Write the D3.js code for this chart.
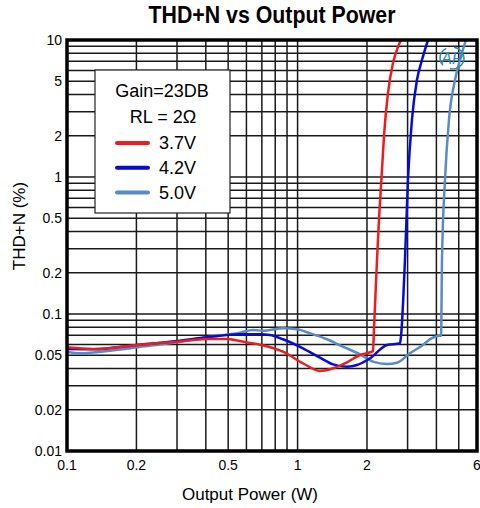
<!DOCTYPE html>
<html lang="en">
<head>
    <meta charset="UTF-8">
    <script src="https://cdn.jsdelivr.net/npm/d3@7"></script>
    <title>THD+N vs Output Power</title>
    <style>
        body {
            margin: 0;
            background: white;
        }

        text {
            font-family: 'Liberation Sans', Arial, sans-serif;
        }
    </style>
</head>
<body>
<div id="chart"></div>

<script>
    // Data (output power in W, THD+N in %)
    const power37 = [0.1, 0.13, 0.201, 0.3, 0.405, 0.494, 0.562, 0.622, 0.687, 0.864, 1.055, 1.251, 1.382, 1.637, 1.865, 2.102, 2.123, 2.144, 2.21, 2.254, 2.323, 2.37, 2.466, 2.593, 2.725, 2.808];
    const thd37 = [0.0571, 0.0555, 0.0594, 0.0628, 0.0657, 0.0657, 0.0635, 0.0615, 0.0597, 0.0531, 0.0437, 0.0384, 0.0395, 0.0444, 0.0502, 0.0531, 0.0535, 0.0764, 0.248, 0.486, 1.125, 1.99, 4.1, 6.79, 8.89, 10];

    const power42 = [0.1, 0.13, 0.201, 0.3, 0.405, 0.562, 0.687, 0.759, 0.864, 1.055, 1.251, 1.424, 1.637, 1.81, 2.061, 2.442, 2.78, 2.808, 2.922, 3.011, 3.133, 3.294, 3.463, 3.677];
    const thd42 = [0.0555, 0.0553, 0.0594, 0.0635, 0.0676, 0.0711, 0.0711, 0.0703, 0.0654, 0.0562, 0.048, 0.0429, 0.0412, 0.0424, 0.0475, 0.0594, 0.0611, 0.0683, 0.248, 0.951, 2.61, 5.1, 7.14, 10];

    const power50 = [0.1, 0.114, 0.154, 0.201, 0.3, 0.405, 0.562, 0.641, 0.708, 0.864, 0.994, 1.132, 1.341, 1.573, 1.865, 2.123, 2.442, 2.698, 3.072, 3.498, 3.752, 4.146, 4.19, 4.23, 4.358, 4.535, 4.816, 5.062, 5.37];
    const thd50 = [0.0531, 0.0517, 0.054, 0.0571, 0.0622, 0.0676, 0.073, 0.0764, 0.0755, 0.0786, 0.0773, 0.0723, 0.0654, 0.0577, 0.0508, 0.0449, 0.0432, 0.0441, 0.0517, 0.0594, 0.0654, 0.0694, 0.0694, 0.248, 0.951, 2.61, 5.1, 7.14, 10];

    const seriesNames = ["3.7V", "4.2V", "5.0V"];
    const seriesColors = ["#ee1c1c", "#0a0ad8", "#5b8ac6"];

    const xTickLabels = [0.1, 0.2, 0.5, 1, 2, 6];
    const yTickLabels = [0.01, 0.02, 0.05, 0.1, 0.2, 0.5, 1, 2, 5, 10];

    const series = [
        { name: seriesNames[0], color: seriesColors[0], points: power37.map((p, i) => [p, thd37[i]]) },
        { name: seriesNames[1], color: seriesColors[1], points: power42.map((p, i) => [p, thd42[i]]) },
        { name: seriesNames[2], color: seriesColors[2], points: power50.map((p, i) => [p, thd50[i]]) }
    ];

    const width = 480, height = 508;
    const plot = { left: 67, right: 477, top: 40, bottom: 451 };

    const svg = d3.select("#chart").append("svg")
        .attr("width", width)
        .attr("height", height);

    const x = d3.scaleLog().domain([0.1, 6]).range([plot.left, plot.right]);
    const y = d3.scaleLog().domain([0.01, 10]).range([plot.bottom, plot.top]);

    // grid lines at every log minor step
    const xGrid = x.ticks().filter(v => v > 0.1 && v < 6);
    const yGrid = y.ticks().filter(v => v > 0.01 && v < 10);

    svg.append("g").selectAll("line")
        .data(xGrid)
        .enter().append("line")
        .attr("x1", d => x(d)).attr("x2", d => x(d))
        .attr("y1", plot.top).attr("y2", plot.bottom)
        .attr("stroke", "#1a1a1a")
        .attr("stroke-width", 1.5);

    svg.append("g").selectAll("line")
        .data(yGrid)
        .enter().append("line")
        .attr("x1", plot.left).attr("x2", plot.right)
        .attr("y1", d => y(d)).attr("y2", d => y(d))
        .attr("stroke", "#1a1a1a")
        .attr("stroke-width", 1.5);

    // curves
    const line = d3.line()
        .x(d => x(d[0]))
        .y(d => y(d[1]))
        .curve(d3.curveMonotoneX);

    svg.append("clipPath").attr("id", "clip")
        .append("rect")
        .attr("x", plot.left).attr("y", plot.top)
        .attr("width", plot.right - plot.left)
        .attr("height", plot.bottom - plot.top);

    svg.append("g")
        .attr("clip-path", "url(#clip)")
        .selectAll("path")
        .data(series.slice().reverse())
        .enter().append("path")
        .attr("d", d => line(d.points))
        .attr("fill", "none")
        .attr("stroke", d => d.color)
        .attr("stroke-width", 2.5);

    // logo in the corner
    const logo = svg.append("g").attr("transform", "translate(452,58)");
    logo.append("ellipse")
        .attr("rx", 12).attr("ry", 11)
        .attr("fill", "none")
        .attr("stroke", "#2f86b4")
        .attr("stroke-width", 1.5)
        .attr("stroke-dasharray", "20,8");
    logo.append("text")
        .attr("text-anchor", "middle")
        .attr("y", 6)
        .attr("font-size", 16)
        .attr("font-style", "italic")
        .attr("fill", "#2f86b4")
        .text("AP");

    // frame
    svg.append("rect")
        .attr("x", plot.left).attr("y", plot.top)
        .attr("width", plot.right - plot.left)
        .attr("height", plot.bottom - plot.top)
        .attr("fill", "none")
        .attr("stroke", "black")
        .attr("stroke-width", 3.5);

    // tick labels
    svg.append("g").selectAll("text")
        .data(xTickLabels)
        .enter().append("text")
        .attr("x", d => x(d))
        .attr("y", 470)
        .attr("text-anchor", "middle")
        .attr("font-size", 14)
        .text(d => d);

    svg.append("g").selectAll("text")
        .data(yTickLabels)
        .enter().append("text")
        .attr("x", 62)
        .attr("y", d => y(d) + 5)
        .attr("text-anchor", "end")
        .attr("font-size", 14)
        .text(d => d);

    // titles
    svg.append("text")
        .attr("x", 272)
        .attr("y", 23)
        .attr("text-anchor", "middle")
        .attr("font-size", 23)
        .attr("font-weight", "bold")
        .attr("textLength", 247)
        .attr("lengthAdjust", "spacingAndGlyphs")
        .text("THD+N vs Output Power");

    svg.append("text")
        .attr("x", 250)
        .attr("y", 500)
        .attr("text-anchor", "middle")
        .attr("font-size", 17)
        .text("Output Power (W)");

    svg.append("text")
        .attr("transform", "translate(25,226) rotate(-90)")
        .attr("text-anchor", "middle")
        .attr("font-size", 17)
        .text("THD+N (%)");

    // legend
    const legend = svg.append("g");
    legend.append("rect")
        .attr("x", 95).attr("y", 70)
        .attr("width", 135).attr("height", 143)
        .attr("fill", "white")
        .attr("stroke", "#222")
        .attr("stroke-width", 1.2);

    legend.append("text")
        .attr("x", 162).attr("y", 97)
        .attr("text-anchor", "middle")
        .attr("font-size", 18)
        .text("Gain=23DB");

    legend.append("text")
        .attr("x", 163).attr("y", 123)
        .attr("text-anchor", "middle")
        .attr("font-size", 18)
        .text("RL = 2\u03A9");

    const rows = legend.selectAll("g.row")
        .data(series)
        .enter().append("g")
        .attr("class", "row")
        .attr("transform", (d, i) => `translate(0,${143 + i * 24.8})`);

    rows.append("line")
        .attr("x1", 117).attr("x2", 148)
        .attr("stroke", d => d.color)
        .attr("stroke-width", 4)
        .attr("stroke-linecap", "round");

    rows.append("text")
        .attr("x", 159).attr("y", 6)
        .attr("font-size", 18)
        .text(d => d.name);
</script>
</body>
</html>
